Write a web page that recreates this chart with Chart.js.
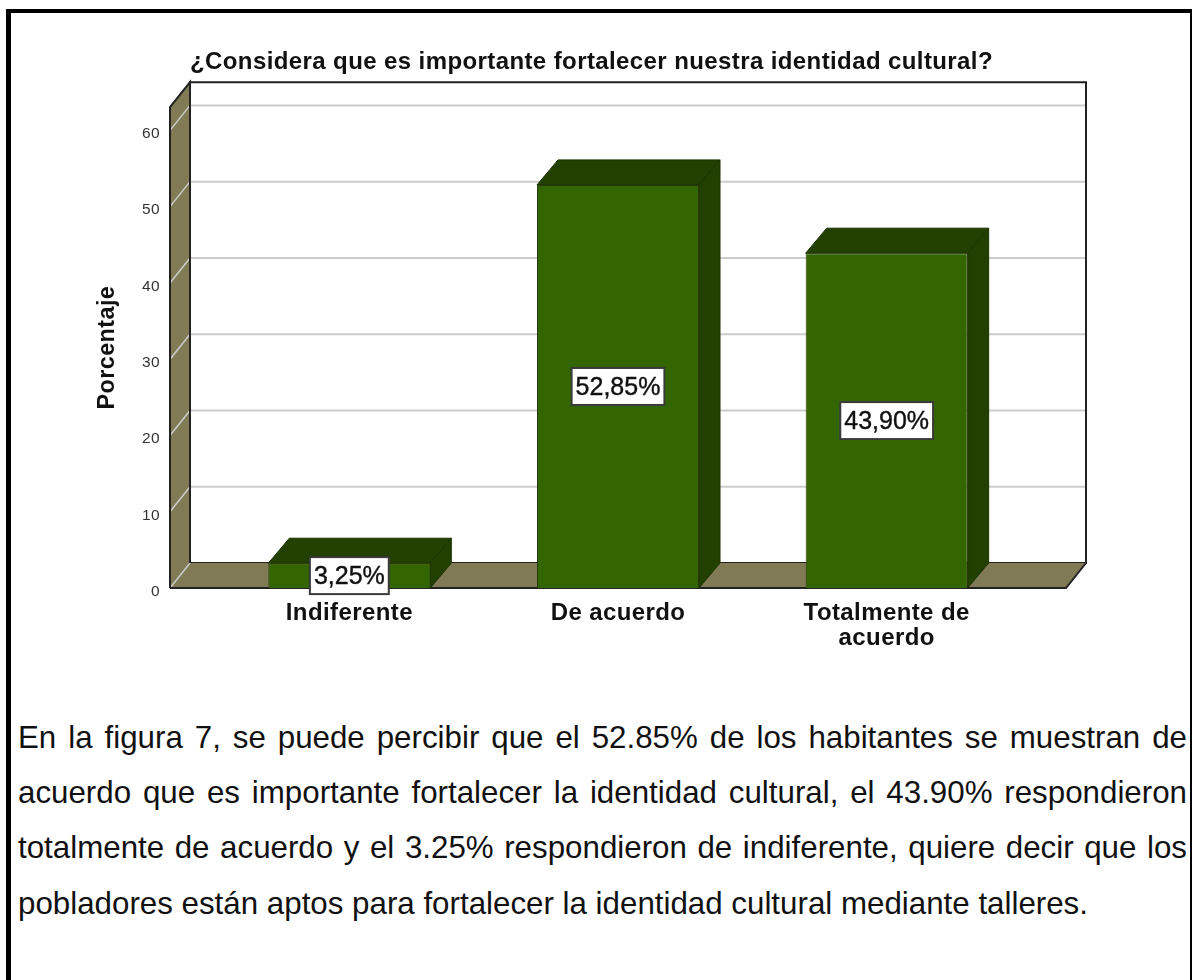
<!DOCTYPE html>
<html lang="es"><head><meta charset="utf-8">
<style>
html,body{margin:0;padding:0;background:#fff;width:1192px;height:980px;overflow:hidden}
#frame{position:absolute;left:6px;top:9px;width:1179px;height:971px;border-left:5px solid #000;border-top:4px solid #000;border-right:2px solid #000}
#wrap{position:absolute;left:0;top:0;width:1183px;height:660px}
#txt{position:absolute;left:18px;top:709.5px;width:1169px;font:31.3px/55.4px "Liberation Sans",Arial,sans-serif;color:#111;text-align:justify;margin:0}
</style></head><body>
<div id="frame"></div>
<div id="wrap"><canvas id="c" width="1183" height="660" style="width:1183px;height:660px;display:block"></canvas></div>
<p id="txt">En la figura 7, se puede percibir que el 52.85% de los habitantes se muestran de acuerdo que es importante fortalecer la identidad cultural, el 43.90% respondieron totalmente de acuerdo y el 3.25% respondieron de indiferente, quiere decir que los pobladores están aptos para fortalecer la identidad cultural mediante talleres.</p>
<script src="https://cdn.jsdelivr.net/npm/chart.js@4/dist/chart.umd.min.js"></script>
<script>
const categories = ['Indiferente', 'De acuerdo', ['Totalmente de', 'acuerdo']];
const percentages = [3.25, 52.85, 43.90];
const valueLabels = ['3,25%', '52,85%', '43,90%'];
const yTicks = [0, 10, 20, 30, 40, 50, 60];
const chartTitle = '¿Considera que es importante fortalecer nuestra identidad cultural?';
const yTitle = 'Porcentaje';

const DX = 20, DY = -25, SIDE = 45;
const WALL = '#807b55', LINE = '#222', GRID = '#cccccc', FRONT = '#336600', DARK = '#224000';
function poly(ctx, pts, fill, stroke, w) {
  ctx.beginPath(); pts.forEach((p, i) => i ? ctx.lineTo(p[0], p[1]) : ctx.moveTo(p[0], p[1])); ctx.closePath();
  if (fill) { ctx.fillStyle = fill; ctx.fill(); }
  if (stroke) { ctx.strokeStyle = stroke; ctx.lineWidth = w || 1; ctx.stroke(); }
}
const box3d = {
  id: 'box3d',
  afterLayout(chart) { chart.titleBlock.left = 162; },
  beforeDraw(chart) { chart.ctx.letterSpacing = '0.4px'; },
  beforeDatasetsDraw(chart) {
    const ctx = chart.ctx, a = chart.chartArea, y = chart.scales.y;
    const L = a.left - SIDE, R = a.right + SIDE, T = a.top, B = a.bottom;
    ctx.save();
    poly(ctx, [[L + DX, T + DY], [R + DX, T + DY], [R + DX, B + DY], [L + DX, B + DY]], '#fff', LINE, 2);
    yTicks.forEach(v => {
      const p = y.getPixelForValue(v);
      if (v > 0) { ctx.strokeStyle = GRID; ctx.lineWidth = 2; ctx.beginPath(); ctx.moveTo(L + DX, p + DY); ctx.lineTo(R + DX, p + DY); ctx.stroke(); }
    });
    poly(ctx, [[L, B], [L + DX, B + DY], [R + DX, B + DY], [R, B]], WALL);
    poly(ctx, [[L, T], [L + DX, T + DY], [L + DX, B + DY], [L, B]], WALL);
    yTicks.forEach(v => {
      const p = y.getPixelForValue(v);
      ctx.strokeStyle = GRID; ctx.lineWidth = 1.5; ctx.beginPath(); ctx.moveTo(L, p); ctx.lineTo(L + DX, p + DY); ctx.stroke();
    });
    ctx.strokeStyle = LINE; ctx.lineWidth = 2;
    ctx.beginPath();
    ctx.moveTo(L, B); ctx.lineTo(L, T); ctx.lineTo(L + DX, T + DY); ctx.lineTo(L + DX, B + DY);
    ctx.moveTo(L, B); ctx.lineTo(R, B); ctx.lineTo(R + DX, B + DY); ctx.lineTo(R + DX, T + DY);
    ctx.stroke();
    // Side and top faces of each bar, taken from the library's bar elements
    chart.getDatasetMeta(0).data.forEach(b => {
      const l = b.x - b.width / 2, r = b.x + b.width / 2;
      poly(ctx, [[l, b.y], [l + DX + 1, b.y + DY], [r + DX + 1, b.y + DY], [r, b.y]], DARK, '#1c3300', 1);
      poly(ctx, [[r, b.y], [r + DX + 1, b.y + DY], [r + DX + 1, b.base + DY], [r, b.base]], DARK, '#1c3300', 1);
    });
    ctx.restore();
  },
  afterDatasetsDraw(chart) {
    const ctx = chart.ctx;
    ctx.save();
    ctx.letterSpacing = '0px';
    ctx.font = '25px "Liberation Sans", Arial, sans-serif';
    ctx.textAlign = 'center'; ctx.textBaseline = 'middle';
    chart.getDatasetMeta(0).data.forEach((b, i) => {
      const cx = b.x, cy = (b.y + b.base) / 2, w = ctx.measureText(valueLabels[i]).width + 8, h = 37;
      ctx.fillStyle = '#fff'; ctx.strokeStyle = '#3a3a3a'; ctx.lineWidth = 2;
      ctx.fillRect(cx - w / 2, cy - h / 2, w, h); ctx.strokeRect(cx - w / 2, cy - h / 2, w, h);
      ctx.fillStyle = '#111'; ctx.strokeStyle = '#111'; ctx.lineWidth = 0.4;
      ctx.fillText(valueLabels[i], cx, cy + 1.5); ctx.strokeText(valueLabels[i], cx, cy + 1.5);
    });
    ctx.restore();
  }
};
new Chart(document.getElementById('c'), {
  type: 'bar',
  data: { labels: categories, datasets: [{ data: percentages, backgroundColor: FRONT, borderColor: '#2a3a10', borderWidth: 1, barPercentage: 0.603, categoryPercentage: 1 }] },
  plugins: [box3d],
  options: {
    responsive: false, animation: false,
    layout: { padding: { left: 0, right: 162, top: 0, bottom: 0 } },
    plugins: {
      legend: { display: false }, tooltip: { enabled: false },
      title: { display: true, text: chartTitle, color: '#111', font: { family: '"Liberation Sans", Arial, sans-serif', size: 24, weight: 'bold', lineHeight: 1.05 }, padding: { top: 50, bottom: 32 } }
    },
    scales: {
      x: {
        type: 'category', offset: true,
        grid: { display: false }, border: { display: false },
        afterFit(s) { s.height = 72; },
        ticks: { autoSkip: false, maxRotation: 0, minRotation: 0, padding: 5, color: '#111', font: { family: '"Liberation Sans", Arial, sans-serif', size: 24, weight: 'bold', lineHeight: 1.04 } }
      },
      y: {
        min: 0, max: 63.04,
        grid: { display: false }, border: { display: false },
        afterFit(s) { s.width = 215; },
        ticks: { stepSize: 10, includeBounds: false, padding: 47, labelOffset: 3.5, color: '#333', font: { family: '"Liberation Sans", Arial, sans-serif', size: 15.5 } },
        title: { display: true, text: yTitle, color: '#111', font: { family: '"Liberation Sans", Arial, sans-serif', size: 23.4, weight: 'bold' }, padding: { top: 94, bottom: 0 } }
      }
    }
  }
});
</script></body></html>
